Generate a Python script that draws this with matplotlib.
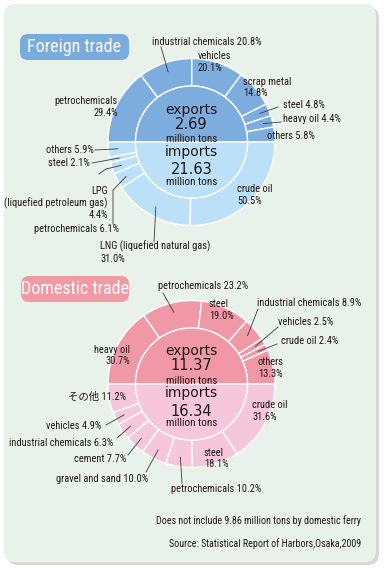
import numpy as np
import matplotlib
matplotlib.use('Agg')
import matplotlib.pyplot as plt
from matplotlib import font_manager
from matplotlib.patches import FancyBboxPatch

# ---- data ----
foreign_export_labels = ['petrochemicals', 'industrial chemicals', 'vehicles', 'scrap metal',
                         'steel', 'heavy oil', 'others']
foreign_export_share = [29.4, 20.8, 20.1, 14.8, 4.8, 4.4, 5.8]
foreign_import_labels = ['others', 'steel', 'LPG\n(liquefied petroleum gas)', 'petrochemicals',
                         'LNG (liquefied natural gas)', 'crude oil']
foreign_import_share = [5.9, 2.1, 4.4, 6.1, 31.0, 50.5]
foreign_totals = [2.69, 21.63]

domestic_export_labels = ['heavy oil', 'petrochemicals', 'steel', 'industrial chemicals',
                          'vehicles', 'crude oil', 'others']
domestic_export_share = [30.7, 23.2, 19.0, 8.9, 2.5, 2.4, 13.3]
domestic_import_labels = ['その他', 'vehicles', 'industrial chemicals', 'cement',
                          'gravel and sand', 'petrochemicals', 'steel', 'crude oil']
domestic_import_share = [11.2, 4.9, 6.3, 7.7, 10.0, 10.2, 18.1, 31.6]
domestic_totals = [11.37, 16.34]

# ---- fonts ----
names = {f.name for f in font_manager.fontManager.ttflist}
narrow = next((n for n in ['Liberation Sans Narrow', 'Roboto Condensed', 'DejaVu Sans Condensed',
                           'Liberation Sans'] if n in names), 'DejaVu Sans')
LABEL_FONT = [narrow, 'Noto Sans CJK JP', 'DejaVu Sans']
WIDE_FONT = ['DejaVu Sans']
TXT = '#231815'

W, H = 385, 569
R_OUT, R_IN, R_LEAD = 83.5, 56, 74


def iy(y):
    return H - y


fig = plt.figure(figsize=(W / 100, H / 100), dpi=100)
fig.patch.set_facecolor('white')
ax = fig.add_axes([0, 0, 1, 1])

# panel with shadow
ax.add_patch(FancyBboxPatch((7, iy(565)), 372, 558, boxstyle='round,pad=0,rounding_size=11',
                            fc='#d6d8d6', ec='none', zorder=0))
ax.add_patch(FancyBboxPatch((4, iy(562)), 372, 558, boxstyle='round,pad=0,rounding_size=11',
                            fc='#e9f2ea', ec='none', zorder=0.5))


def mid_angles(vals, direction):
    frac = np.array(vals) / sum(vals) * 180
    edges = 180 + direction * np.concatenate([[0], np.cumsum(frac)])
    return (edges[:-1] + edges[1:]) / 2


def draw_chart(cx, cy, exp_vals, imp_vals, totals, exp_col, imp_col, baselines):
    c = (cx, iy(cy))
    wp = dict(width=R_OUT - R_IN, edgecolor='white', linewidth=1)
    ax.pie(np.array(exp_vals) / sum(exp_vals) / 2, normalize=False, startangle=180,
           counterclock=False, radius=R_OUT, center=c, colors=[exp_col], wedgeprops=wp)
    ax.pie(np.array(imp_vals) / sum(imp_vals) / 2, normalize=False, startangle=180,
           counterclock=True, radius=R_OUT, center=c, colors=[imp_col], wedgeprops=wp)
    ax.pie([0.5, 0.5], startangle=0, radius=R_IN, center=c, colors=[exp_col, imp_col],
           wedgeprops=dict(edgecolor='white', linewidth=1))
    for i, (word, total) in enumerate(zip(['exports', 'imports'], totals)):
        y0, y1, y2 = baselines[i]
        ax.text(cx, iy(y0), word, ha='center', va='baseline', fontsize=10, family=WIDE_FONT, color=TXT)
        ax.text(cx, iy(y1), f'{total:.2f}', ha='center', va='baseline', fontsize=10.5, family=WIDE_FONT, color=TXT)
        ax.text(cx, iy(y2), 'million tons', ha='center', va='baseline', fontsize=8, family=LABEL_FONT, color=TXT)


def draw_labels(cx, cy, labels, vals, direction, layout):
    angs = mid_angles(vals, direction)
    for name, v, a, (x, y, ha, sep, lead) in zip(labels, vals, angs, layout):
        ax.text(x, iy(y), f'{name}{sep}{v:.1f}%', ha=ha, va='center', multialignment=ha,
                fontsize=7.5, family=LABEL_FONT, color=TXT, linespacing=1.2)
        if lead:
            px = cx + R_LEAD * np.cos(np.radians(a))
            py = iy(cy) + R_LEAD * np.sin(np.radians(a))
            xs = [p[0] for p in lead] + [px]
            ys = [iy(p[1]) for p in lead] + [py]
            ax.plot(xs, ys, color='#3a3a3a', lw=0.6, zorder=5)


def badge(x0, y0, x1, y1, text, col):
    ax.add_patch(FancyBboxPatch((x0, iy(y1)), x1 - x0, y1 - y0,
                                boxstyle='round,pad=0,rounding_size=8', fc=col, ec='none', zorder=2))
    ax.text((x0 + x1) / 2, iy((y0 + y1) / 2), text, ha='center', va='center', color='white',
            fontsize=13, family=LABEL_FONT, zorder=3)


# ---- foreign trade ----
badge(20, 34, 129, 60, 'Foreign trade', '#7aabdd')
draw_chart(191.5, 142, foreign_export_share, foreign_import_share, foreign_totals,
           '#7dacde', '#bbe0f8', [(113.5, 128.5, 141.5), (155.5, 173.5, 184.5)])
draw_labels(191.5, 142, foreign_export_labels, foreign_export_share, -1, [
    (118, 107, 'right', '\n', None),
    (207, 42, 'center', ' ', [(161, 47)]),
    (198, 62, 'left', '\n', None),
    (243, 87.5, 'left', '\n', None),
    (283, 105, 'left', ' ', [(278, 107)]),
    (283, 119, 'left', ' ', [(281, 122)]),
    (267, 136, 'left', ' ', None),
])
draw_labels(191.5, 142, foreign_import_labels, foreign_import_share, 1, [
    (94, 150, 'right', ' ', [(95, 150)]),
    (90, 163, 'right', ' ', [(92, 163)]),
    (108, 203, 'right', '\n', [(99, 174), (106, 169)]),
    (119, 229, 'right', ' ', [(113, 224), (113, 190)]),
    (100, 252, 'left', '\n', [(154, 242)]),
    (237, 195, 'left', '\n', None),
])

# ---- domestic trade ----
badge(21, 276, 129, 302, 'Domestic trade', '#f09aa6')
draw_chart(191.5, 384, domestic_export_share, domestic_import_share, domestic_totals,
           '#f098a5', '#f6c6da', [(355.5, 370.5, 383.5), (397.5, 415.5, 426.5)])
draw_labels(191.5, 384, domestic_export_labels, domestic_export_share, -1, [
    (130, 355.5, 'right', '\n', None),
    (203, 286, 'center', ' ', [(163, 293)]),
    (209, 310, 'left', '\n', None),
    (257, 303, 'left', ' ', [(258, 309)]),
    (278, 322, 'left', ' ', [(278, 327)]),
    (281, 341, 'left', ' ', [(277, 344)]),
    (258, 368, 'left', '\n', None),
])
draw_labels(191.5, 384, domestic_import_labels, domestic_import_share, 1, [
    (126, 397, 'right', ' ', None),
    (101, 426, 'right', ' ', [(106, 425)]),
    (113, 443, 'right', ' ', [(117, 438)]),
    (126, 459, 'right', ' ', [(128, 455)]),
    (148, 479, 'right', ' ', [(146, 472)]),
    (171, 489, 'left', ' ', [(182, 483)]),
    (204, 458.5, 'left', '\n', None),
    (252, 411, 'left', '\n', None),
])

ax.text(361, iy(521), 'Does not include 9.86 million tons by domestic ferry', ha='right', va='center',
        fontsize=7.2, family=LABEL_FONT, color=TXT)
ax.text(361, iy(544), 'Source: Statistical Report of Harbors,Osaka,2009', ha='right', va='center',
        fontsize=7.2, family=LABEL_FONT, color=TXT)

ax.set_xlim(0, W)
ax.set_ylim(0, H)
ax.set_aspect('equal')
ax.axis('off')

fig.savefig('out.png', dpi=100)
